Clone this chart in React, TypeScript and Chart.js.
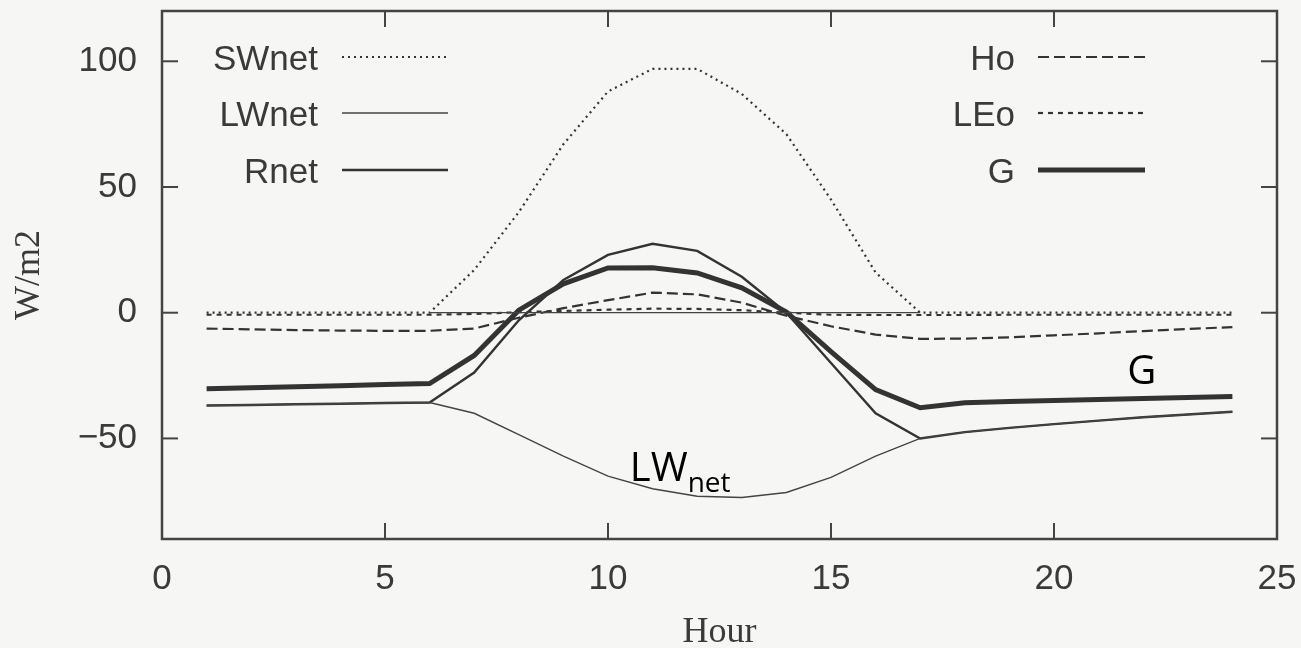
import React, { useEffect, useRef } from "react";
import { Chart, registerables } from "chart.js";

Chart.register(...registerables);

// ---- data ----
const HOURS = [1, 2, 3, 4, 5, 6, 7, 8, 9, 10, 11, 12, 13, 14, 15, 16, 17, 18, 19, 20, 21, 22, 23, 24];
const SWNET = [0, 0, 0, 0, 0, 0, 17, 40, 67, 88, 97, 97, 87, 71, 45, 16, 0, 0, 0, 0, 0, 0, 0, 0];
const LWNET = [-36.9, -36.7, -36.4, -36.2, -35.9, -35.7, -40, -48.5, -57, -65, -70, -73, -73.5, -71.5, -65.5, -57, -50, -47.5, -45.8, -44.3, -42.9, -41.6, -40.5, -39.4];
const RNET = [-36.9, -36.7, -36.4, -36.2, -35.9, -35.7, -23.8, -3, 13, 23, 27.4, 24.6, 14.3, 0, -20, -40, -50, -47.5, -45.8, -44.3, -42.9, -41.6, -40.5, -39.4];
const HO = [-6.3, -6.6, -6.9, -7.1, -7.2, -7.2, -6.3, -2, 1.8, 5, 8, 7.3, 4, -1.2, -5.4, -8.7, -10.4, -10.3, -9.8, -9, -8.2, -7.3, -6.5, -5.7];
const LEO = [-0.8, -0.8, -0.8, -0.8, -0.8, -0.8, -0.5, 0.2, 0.7, 1.2, 1.6, 1.5, 1.0, 0, -0.8, -0.9, -0.9, -0.9, -0.8, -0.8, -0.8, -0.8, -0.8, -0.8];
const G = [-30.2, -29.8, -29.4, -29, -28.6, -28.2, -17, 1, 11.5, 17.8, 17.9, 15.8, 9.9, 0.3, -15.5, -30.6, -37.8, -35.8, -35.3, -34.9, -34.5, -34.1, -33.7, -33.3];
const ZERO_SEG = [null, null, null, null, null, 0, 0, 0, 0, 0, 0, 0, 0, 0, 0, 0, 0, null, null, null, null, null, null, null];

const X_TICKS = [0, 5, 10, 15, 20, 25];
const Y_TICKS = [-50, 0, 50, 100];
const X_LABEL = "Hour";
const Y_LABEL = "W/m2";

const ANNOTATIONS = [
  { text: "LW", sub: "net", x: 10.49, y: -67 },
  { text: "G", sub: "", x: 21.64, y: -28.2 },
];

const INK = "#3a3a3a";
const BG = "#f6f6f4";

const pts = (arr: (number | null)[]) => HOURS.map((h, i) => ({ x: h, y: arr[i] }));

const framePlugin = {
  id: "gpFrame",
  afterDatasetsDraw(chart: any) {
    const { ctx, chartArea, scales } = chart;
    const { left, right, top, bottom } = chartArea;
    const x = scales.x;
    const y = scales.y;
    ctx.save();
    ctx.setLineDash([]);
    ctx.strokeStyle = "#444";
    ctx.lineWidth = 2.5;
    ctx.strokeRect(left, top, right - left, bottom - top);
    ctx.lineWidth = 2;
    const L = 16;
    const seg = (a: number, b: number, c: number, d: number) => {
      ctx.beginPath();
      ctx.moveTo(a, b);
      ctx.lineTo(c, d);
      ctx.stroke();
    };
    X_TICKS.forEach((v) => {
      const px = x.getPixelForValue(v);
      seg(px, bottom, px, bottom - L);
      seg(px, top, px, top + L);
    });
    Y_TICKS.forEach((v) => {
      const py = y.getPixelForValue(v);
      seg(left, py, left + L, py);
      seg(right, py, right - L, py);
    });
    ctx.restore();
  },
};

const legendPlugin = {
  id: "gpLegend",
  afterDraw(chart: any) {
    const { ctx, chartArea } = chart;
    const cols = [
      { textRight: chartArea.left + 156, x0: chartArea.left + 180, x1: chartArea.left + 286 },
      { textRight: chartArea.left + 853, x0: chartArea.left + 876, x1: chartArea.left + 983 },
    ];
    const rowY = [chartArea.top + 46, chartArea.top + 102, chartArea.top + 159];
    const entries = chart.data.datasets.filter((d: any) => d.label);
    ctx.save();
    entries.forEach((d: any, i: number) => {
      const col = cols[Math.floor(i / 3)];
      const yy = rowY[i % 3];
      ctx.font = '35px "Liberation Sans", Arial, sans-serif';
      ctx.fillStyle = INK;
      ctx.textAlign = "right";
      ctx.textBaseline = "alphabetic";
      ctx.fillText(d.label, col.textRight, yy + 13);
      ctx.strokeStyle = d.borderColor;
      ctx.lineWidth = d.borderWidth;
      ctx.lineCap = "butt";
      ctx.setLineDash(d.borderDash || []);
      ctx.beginPath();
      ctx.moveTo(col.x0, yy);
      ctx.lineTo(col.x1, yy);
      ctx.stroke();
    });
    ctx.restore();
  },
};

const annotationPlugin = {
  id: "gpAnnotations",
  afterDraw(chart: any) {
    const { ctx, scales } = chart;
    ctx.save();
    ctx.fillStyle = "#000";
    ctx.textBaseline = "alphabetic";
    ctx.textAlign = "left";
    ANNOTATIONS.forEach((a) => {
      const px = scales.x.getPixelForValue(a.x);
      const py = scales.y.getPixelForValue(a.y);
      ctx.font = '40px "Open Sans", sans-serif';
      ctx.fillText(a.text, px, py);
      if (a.sub) {
        const w = ctx.measureText(a.text).width;
        ctx.font = '28px "Open Sans", sans-serif';
        ctx.fillText(a.sub, px + w, py + 11);
      }
    });
    ctx.restore();
  },
};

export default function App() {
  const ref = useRef<HTMLCanvasElement | null>(null);

  useEffect(() => {
    if (!ref.current) return;
    const common = { pointRadius: 0, fill: false, tension: 0, borderCapStyle: "butt" };
    const chart = new Chart(ref.current, {
      type: "line",
      data: {
        datasets: [
          { ...common, label: "", data: pts(ZERO_SEG), borderColor: "#444", borderWidth: 1.3, spanGaps: false },
          { ...common, label: "SWnet", data: pts(SWNET), borderColor: "#333", borderWidth: 2.2, borderDash: [2, 4] },
          { ...common, label: "LWnet", data: pts(LWNET), borderColor: "#444", borderWidth: 1.4 },
          { ...common, label: "Rnet", data: pts(RNET), borderColor: "#333", borderWidth: 2.4 },
          { ...common, label: "Ho", data: pts(HO), borderColor: "#333", borderWidth: 2.2, borderDash: [11, 5] },
          { ...common, label: "LEo", data: pts(LEO), borderColor: "#333", borderWidth: 2.2, borderDash: [5, 5] },
          { ...common, label: "G", data: pts(G), borderColor: "#333", borderWidth: 5 },
        ] as any,
      },
      options: {
        animation: false,
        responsive: false,
        maintainAspectRatio: false,
        devicePixelRatio: 1,
        layout: { padding: { top: 11, right: 24, left: 0, bottom: 0 } },
        plugins: { legend: { display: false }, tooltip: { enabled: false } },
        scales: {
          x: {
            type: "linear",
            min: 0,
            max: 25,
            grid: { display: false, drawTicks: false },
            border: { display: false },
            afterBuildTicks: (s: any) => {
              s.ticks = X_TICKS.map((v) => ({ value: v }));
            },
            afterFit: (s: any) => {
              s.height = 109;
              s.paddingLeft = 0;
              s.paddingRight = 0;
            },
            ticks: {
              color: INK,
              padding: 19,
              maxRotation: 0,
              font: { family: '"Liberation Sans", Arial, sans-serif', size: 35 },
              callback: (v: any) => String(v),
            },
            title: {
              display: true,
              text: X_LABEL,
              color: INK,
              font: { family: '"Liberation Serif", "Times New Roman", serif', size: 36, lineHeight: 0.8 },
              padding: { top: 0, bottom: 1 },
            },
          },
          y: {
            type: "linear",
            min: -90,
            max: 120,
            grid: { display: false, drawTicks: false },
            border: { display: false },
            afterBuildTicks: (s: any) => {
              s.ticks = Y_TICKS.map((v) => ({ value: v }));
            },
            afterFit: (s: any) => {
              s.width = 162;
              s.paddingTop = 0;
              s.paddingBottom = 0;
            },
            ticks: {
              color: INK,
              padding: 25,
              font: { family: '"Liberation Sans", Arial, sans-serif', size: 35 },
              callback: (v: any) => (Number(v) < 0 ? "\u2212" + Math.abs(Number(v)) : String(v)),
            },
            title: {
              display: true,
              text: Y_LABEL,
              color: INK,
              font: { family: '"Liberation Serif", "Times New Roman", serif', size: 36 },
              padding: { top: 8, bottom: 0 },
            },
          },
        },
      } as any,
      plugins: [framePlugin, legendPlugin, annotationPlugin],
    });
    return () => chart.destroy();
  }, []);

  return (
    <div style={{ position: "fixed", left: 0, top: 0, width: 1301, height: 648, background: BG }}>
      <canvas ref={ref} width={1301} height={648} style={{ display: "block" }} />
    </div>
  );
}
